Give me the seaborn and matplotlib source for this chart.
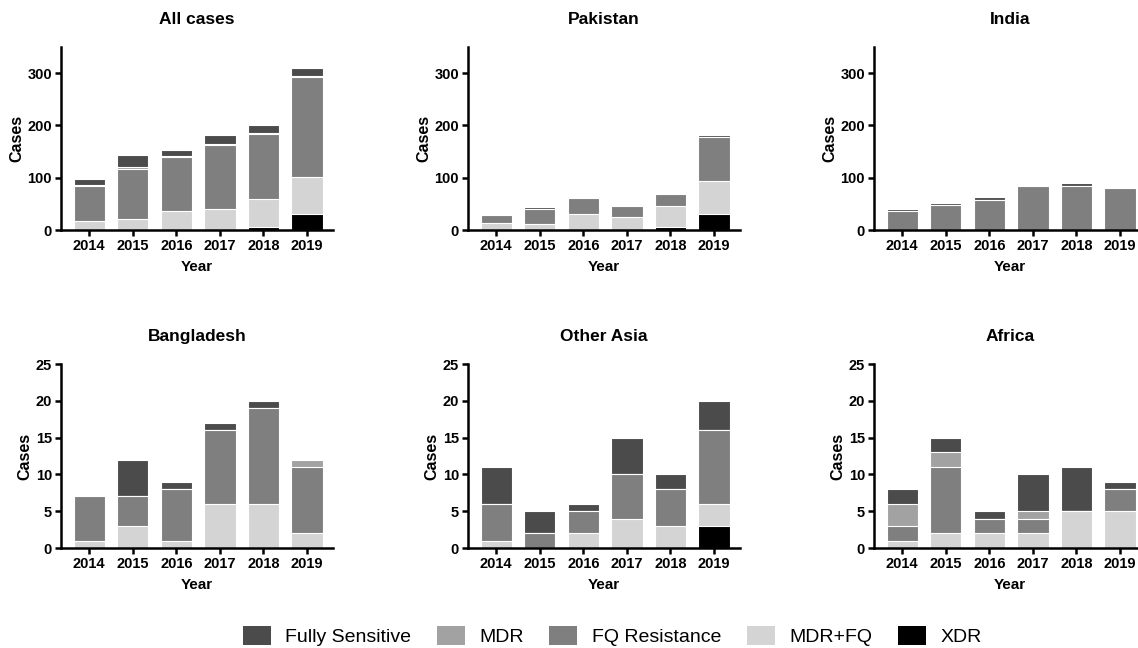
import pandas as pd
import matplotlib
matplotlib.use("Agg")
import matplotlib.pyplot as plt
from matplotlib.patches import Patch
import seaborn as sns

years = ["2014", "2015", "2016", "2017", "2018", "2019"]

# stack order, bottom to top
categories = ["XDR", "MDR+FQ", "FQ Resistance", "MDR", "Fully Sensitive"]
colors = {
    "Fully Sensitive": "#4b4b4b",
    "MDR": "#a2a2a2",
    "FQ Resistance": "#7f7f7f",
    "MDR+FQ": "#d4d4d4",
    "XDR": "#000000",
}
legend_order = ["Fully Sensitive", "MDR", "FQ Resistance", "MDR+FQ", "XDR"]

all_cases = {
    "XDR": [0, 0, 0, 0, 5, 31],
    "MDR+FQ": [18, 21, 37, 41, 55, 71],
    "FQ Resistance": [67, 96, 103, 121, 124, 190],
    "MDR": [2, 3, 1, 3, 2, 3],
    "Fully Sensitive": [11, 23, 12, 16, 14, 14],
}
pakistan = {
    "XDR": [0, 0, 0, 0, 5, 31],
    "MDR+FQ": [14, 12, 30, 25, 41, 62],
    "FQ Resistance": [14, 29, 31, 20, 22, 84],
    "MDR": [0, 0, 0, 0, 0, 1],
    "Fully Sensitive": [2, 3, 2, 3, 3, 3],
}
india = {
    "XDR": [0, 0, 0, 0, 0, 0],
    "MDR+FQ": [0, 0, 0, 0, 0, 0],
    "FQ Resistance": [37, 48, 57, 84, 85, 80],
    "MDR": [0, 0, 0, 0, 0, 0],
    "Fully Sensitive": [4, 4, 6, 2, 4, 0],
}
bangladesh = {
    "XDR": [0, 0, 0, 0, 0, 0],
    "MDR+FQ": [1, 3, 1, 6, 6, 2],
    "FQ Resistance": [6, 4, 7, 10, 13, 9],
    "MDR": [0, 0, 0, 0, 0, 1],
    "Fully Sensitive": [0, 5, 1, 1, 1, 0],
}
other_asia = {
    "XDR": [0, 0, 0, 0, 0, 3],
    "MDR+FQ": [1, 0, 2, 4, 3, 3],
    "FQ Resistance": [5, 2, 3, 6, 5, 10],
    "MDR": [0, 0, 0, 0, 0, 0],
    "Fully Sensitive": [5, 3, 1, 5, 2, 4],
}
africa = {
    "XDR": [0, 0, 0, 0, 0, 0],
    "MDR+FQ": [1, 2, 2, 2, 5, 5],
    "FQ Resistance": [2, 9, 2, 2, 0, 3],
    "MDR": [3, 2, 0, 1, 0, 0],
    "Fully Sensitive": [2, 2, 1, 5, 6, 1],
}

panels = [
    ("All cases", all_cases, 350, [0, 100, 200, 300]),
    ("Pakistan", pakistan, 350, [0, 100, 200, 300]),
    ("India", india, 350, [0, 100, 200, 300]),
    ("Bangladesh", bangladesh, 25, [0, 5, 10, 15, 20, 25]),
    ("Other Asia", other_asia, 25, [0, 5, 10, 15, 20, 25]),
    ("Africa", africa, 25, [0, 5, 10, 15, 20, 25]),
]

sns.set_style("ticks")
plt.rcParams["font.family"] = ["Liberation Sans", "DejaVu Sans"]
for key in ["text.color", "axes.labelcolor", "xtick.color", "ytick.color"]:
    plt.rcParams[key] = "black"

fig = plt.figure(figsize=(11.38, 6.48), dpi=100)

W, H = 1138, 648
lefts = [61, 468, 874]
rows = [(47, 230), (364, 548)]  # top, bottom in pixels
ax_w = 272

for i, (title, data, ymax, yticks) in enumerate(panels):
    r, c = divmod(i, 3)
    top, bot = rows[r]
    ax = fig.add_axes([lefts[c] / W, (H - bot) / H, ax_w / W, (bot - top) / H])

    df = pd.DataFrame(data)
    df["Year"] = years
    cum = df[categories].cumsum(axis=1)
    # draw from the top of the stack down so lower layers cover upper ones
    for cat in reversed(categories):
        sns.barplot(x=years, y=cum[cat].values, color=colors[cat], width=0.72,
                    edgecolor="white", linewidth=0.8, saturation=1, ax=ax)

    ax.set_xlim(-0.65, 5.6)
    ax.set_ylim(0, ymax)
    ax.set_yticks(yticks)
    ax.set_title(title, fontsize=12.5, fontweight="bold", pad=16.5)
    ax.set_xlabel("Year", fontsize=11, fontweight="bold", labelpad=5)
    ax.set_ylabel("Cases", fontsize=11.5, fontweight="bold", labelpad=2)
    for lab in ax.get_xticklabels() + ax.get_yticklabels():
        lab.set_fontweight("bold")
    ax.tick_params(axis="both", labelsize=10.5, width=1.8, length=4.5, pad=2, color="black")
    for s in ["top", "right"]:
        ax.spines[s].set_visible(False)
    for s in ["left", "bottom"]:
        ax.spines[s].set_linewidth(1.8)
        ax.spines[s].set_color("black")

handles = [Patch(facecolor=colors[k], edgecolor="none", label=k) for k in legend_order]
fig.legend(handles=handles, loc="center", bbox_to_anchor=(0.538, 0.0185), ncol=5,
           frameon=False, prop={"size": 14},
           handlelength=1.45, handleheight=1.1, handletextpad=0.75, columnspacing=1.3)

fig.savefig("out.png", dpi=100)
